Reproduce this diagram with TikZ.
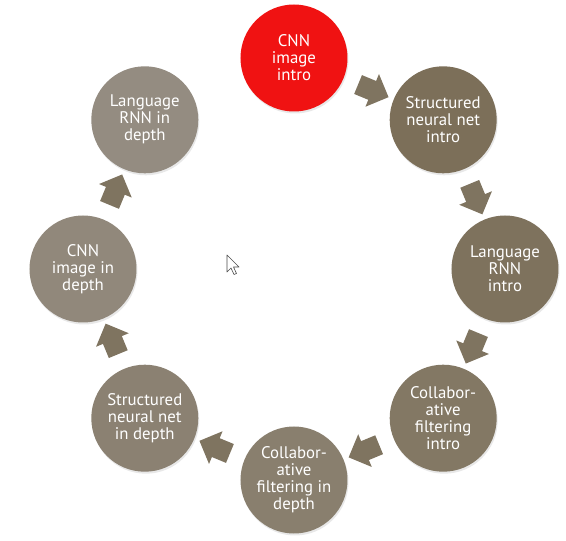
\documentclass[tikz,border=0pt]{standalone}
\usepackage{fontspec}
\setmainfont{PT Sans}
\usetikzlibrary{calc}
\usetikzlibrary{shapes.arrows}
\usetikzlibrary{shadows}

\definecolor{topicred}{RGB}{240,18,18}
\definecolor{stepA}{RGB}{124,111,89}
\definecolor{stepB}{RGB}{126,114,93}
\definecolor{stepC}{RGB}{131,120,100}
\definecolor{stepD}{RGB}{137,127,110}
\definecolor{stepE}{RGB}{139,129,114}
\definecolor{stepF}{RGB}{145,136,123}
\definecolor{stepG}{RGB}{148,140,129}
\definecolor{turnbrown}{RGB}{127,116,96}

\begin{document}
\begin{tikzpicture}
          [
          Topic/.style={circle, fill=#1, text=white, minimum size=107pt, inner sep=0pt, align=center,
                        font=\fontsize{16.8}{17}\selectfont,
                        drop shadow={opacity=0.18, shadow xshift=1pt, shadow yshift=-2pt}},
          Turn/.style={single arrow, fill=turnbrown, minimum height=33pt,
                       single arrow head extend=7.5pt, inner xsep=0pt, inner ysep=10pt},
          ]
          \useasboundingbox (-294pt,-272pt) rectangle (272pt,269pt);

          % Nodes
          \node[Topic=topicred] (CnnIntro) at (90:211pt) {CNN\\image\\intro};
          \node[Topic=stepA] (StructIntro) at (45:211pt) {Structured\\neural net\\intro};
          \node[Topic=stepB] (LangIntro) at (0:211pt) {Language\\RNN\\intro};
          \node[Topic=stepC] (CollabIntro) at (-45:211pt) {Collabor-\\ative\\filtering\\intro};
          \node[Topic=stepD] (CollabDepth) at (-90:211pt) {Collabor-\\ative\\filtering in\\depth};
          \node[Topic=stepE] (StructDepth) at (-135:211pt) {Structured\\neural net\\in depth};
          \node[Topic=stepF] (CnnDepth) at (180:211pt) {CNN\\image in\\depth};
          \node[Topic=stepG] (LangDepth) at (135:211pt) {Language\\RNN in\\depth};

          % Arrows
          \node[Turn, rotate=-22.5] (Turn1) at ($(CnnIntro)!0.5!(StructIntro)$) {};
          \node[Turn, rotate=-67.5] (Turn2) at ($(StructIntro)!0.5!(LangIntro)$) {};
          \node[Turn, rotate=-112.5] (Turn3) at ($(LangIntro)!0.5!(CollabIntro)$) {};
          \node[Turn, rotate=-157.5] (Turn4) at ($(CollabIntro)!0.5!(CollabDepth)$) {};
          \node[Turn, rotate=157.5] (Turn5) at ($(CollabDepth)!0.5!(StructDepth)$) {};
          \node[Turn, rotate=112.5] (Turn6) at ($(StructDepth)!0.5!(CnnDepth)$) {};
          \node[Turn, rotate=67.5] (Turn7) at ($(CnnDepth)!0.5!(LangDepth)$) {};

          % Pointer
          \draw[fill=white, draw=black!70, line width=0.6pt, line join=round, shift={(-67pt,14pt)}]
            (0pt,0pt) -- (0pt,-17pt) -- (4pt,-13pt) -- (7pt,-19.5pt) -- (9.5pt,-18.5pt)
            -- (6.5pt,-12pt) -- (12pt,-12pt) -- cycle;
        \end{tikzpicture}
\end{document}
